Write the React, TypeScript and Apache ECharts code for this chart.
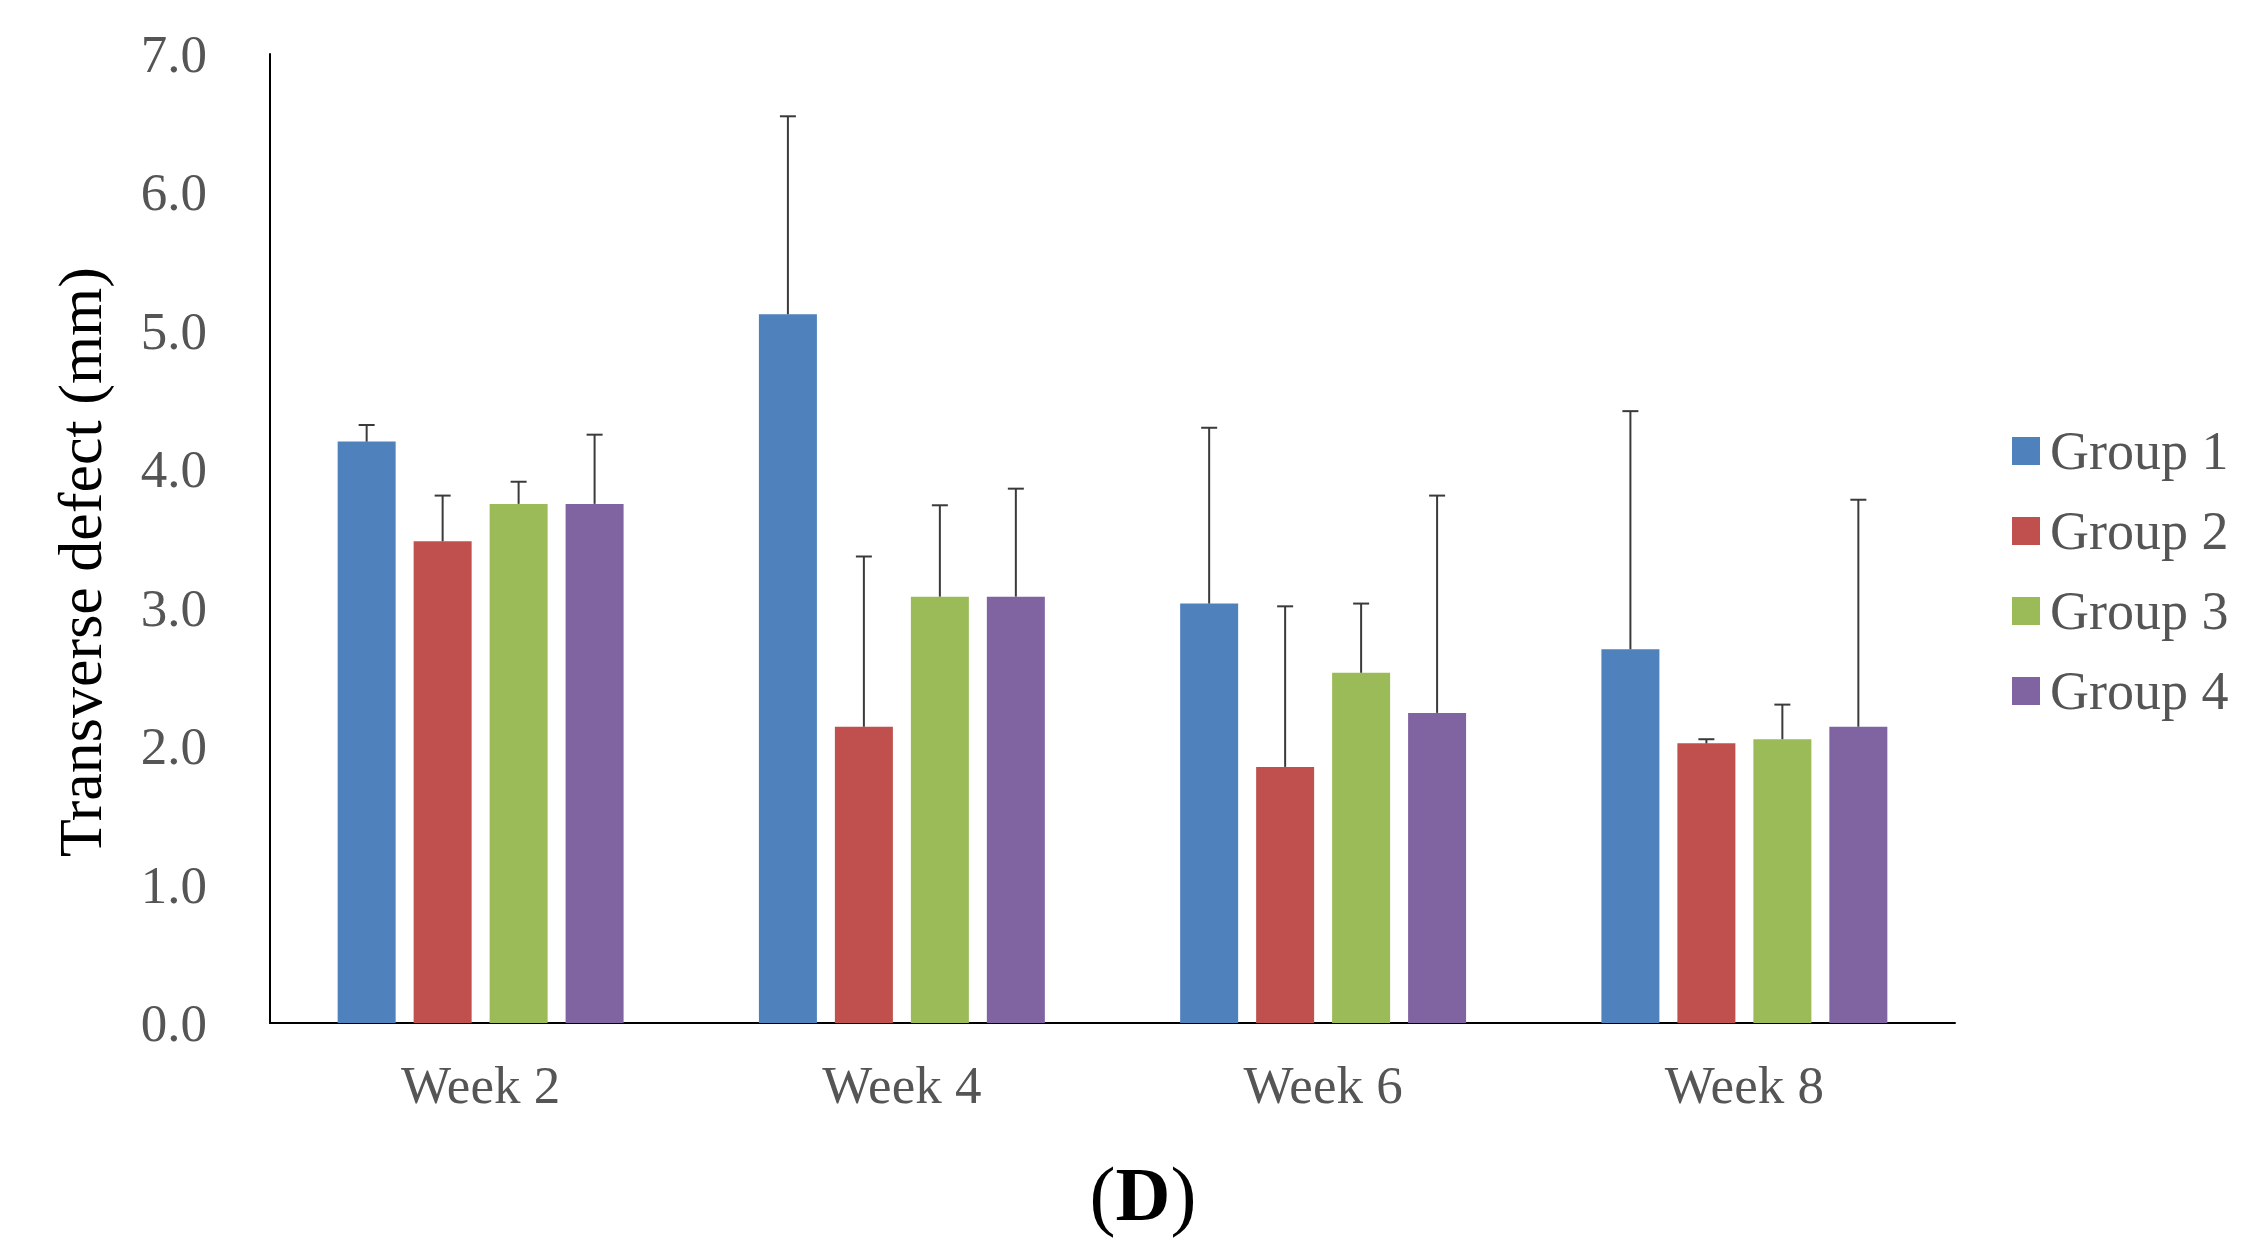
import React, { useEffect, useRef } from "react";
import * as echarts from "echarts";

const weeks = ["Week 2", "Week 4", "Week 6", "Week 8"];
const groupNames = ["Group 1", "Group 2", "Group 3", "Group 4"];
const group1 = [4.2, 5.12, 3.03, 2.7];
const group2 = [3.48, 2.14, 1.85, 2.02];
const group3 = [3.75, 3.08, 2.53, 2.05];
const group4 = [3.75, 3.08, 2.24, 2.14];
const err1 = [0.12, 1.43, 1.27, 1.72];
const err2 = [0.33, 1.23, 1.16, 0.03];
const err3 = [0.16, 0.66, 0.5, 0.25];
const err4 = [0.5, 0.78, 1.57, 1.64];
const yTicks = [0, 1, 2, 3, 4, 5, 6, 7];
const yTitle = "Transverse defect (mm)";

const colors = ["#4F81BD", "#C0504D", "#9BBB59", "#8064A2"];
const FONT = "'Liberation Serif', 'Times New Roman', serif";

export default function App() {
  const ref = useRef<HTMLDivElement>(null);
  useEffect(() => {
    if (!ref.current) return;
    const chart = echarts.init(ref.current, undefined, { renderer: "svg" });
    const means = [group1, group2, group3, group4];
    const errs = [err1, err2, err3, err4];
    const BAR_W = 58;
    const GAP = 0.31;
    const pitch = BAR_W * (1 + GAP);

    const barSeries = means.map((vals, g) => ({
      name: groupNames[g],
      type: "bar",
      data: vals,
      barWidth: BAR_W,
      barGap: "31%",
      itemStyle: { color: colors[g] },
      z: 2,
    }));

    const errSeries = means.map((vals, g) => ({
      name: "err" + g,
      type: "custom",
      z: 5,
      data: vals.map((m, i) => [i, m, m + errs[g][i]]),
      encode: { x: 0, y: [1, 2] },
      renderItem: (params: any, api: any) => {
        const cat = api.value(0);
        const p0 = api.coord([cat, api.value(1)]);
        const p1 = api.coord([cat, api.value(2)]);
        const x = p0[0] + (g - 1.5) * pitch;
        const style = { stroke: "#3a3a3a", lineWidth: 2 };
        return {
          type: "group",
          children: [
            { type: "line", shape: { x1: x, y1: p0[1], x2: x, y2: p1[1] }, style },
            { type: "line", shape: { x1: x - 8, y1: p1[1], x2: x + 8, y2: p1[1] }, style },
          ],
        };
      },
    }));

    chart.setOption({
      animation: false,
      backgroundColor: "#ffffff",
      grid: { left: 270, top: 54, right: 310, bottom: 230, containLabel: false },
      legend: {
        data: groupNames,
        orient: "vertical",
        left: 2007,
        top: 419,
        icon: "rect",
        itemWidth: 28,
        itemHeight: 28,
        itemGap: 26,
        textStyle: {
          fontFamily: FONT,
          fontSize: 54,
          lineHeight: 54,
          color: "#555555",
          padding: [0, 0, 0, 5],
        },
      },
      xAxis: {
        type: "category",
        data: weeks,
        axisLine: { show: true, lineStyle: { color: "#000000", width: 2 } },
        axisTick: { show: false },
        axisLabel: {
          fontFamily: FONT,
          fontSize: 53,
          color: "#555555",
          margin: 35,
        },
      },
      yAxis: {
        type: "value",
        min: yTicks[0],
        max: yTicks[yTicks.length - 1],
        interval: 1,
        axisLine: { show: true, lineStyle: { color: "#000000", width: 2 } },
        axisTick: { show: false },
        splitLine: { show: false },
        axisLabel: {
          fontFamily: FONT,
          fontSize: 53,
          color: "#555555",
          margin: 63,
          formatter: (v: number) => v.toFixed(1),
        },
      },
      graphic: [
        {
          type: "text",
          x: 80,
          y: 562,
          rotation: Math.PI / 2,
          style: {
            text: yTitle,
            textAlign: "center",
            textVerticalAlign: "middle",
            fill: "#000000",
            font: "62px " + FONT,
          },
        },
        {
          type: "text",
          x: 1143,
          y: 1194,
          style: {
            text: "{p|(}{d|D}{p|)}",
            textAlign: "center",
            textVerticalAlign: "middle",
            fill: "#000000",
            rich: {
              p: { fontFamily: FONT, fontSize: 78, fontWeight: "normal", fill: "#000000" },
              d: { fontFamily: FONT, fontSize: 76, fontWeight: "bold", fill: "#000000" },
            },
          },
        },
      ],
      series: [...barSeries, ...errSeries],
    });
    return () => chart.dispose();
  }, []);
  return (
    <div
      ref={ref}
      style={{ position: "fixed", left: 0, top: 0, width: 2265, height: 1253, background: "#fff" }}
    />
  );
}
